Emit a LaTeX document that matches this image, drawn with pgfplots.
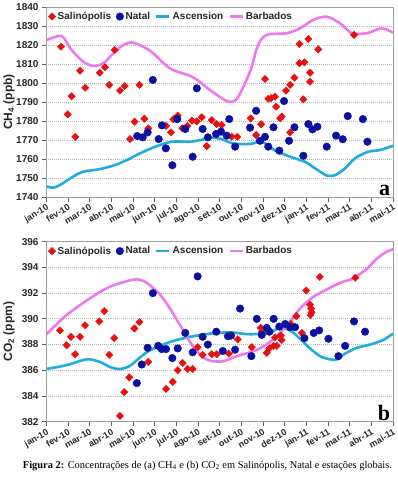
\documentclass[border=0pt]{standalone}
\usepackage{fontspec}
\setmainfont{Liberation Sans}
\newfontfamily\seriffont{Liberation Serif}
\usepackage{pgfplots}
\pgfplotsset{compat=1.18}
\definecolor{salred}{RGB}{232,16,16}
\definecolor{natblue}{RGB}{12,16,160}
\definecolor{ascblue}{RGB}{32,172,222}
\definecolor{barpink}{RGB}{238,120,238}

\pgfplotsset{
  mybase/.style={
    scale only axis, width=346.5pt,
    xmin=0, xmax=16, xtick={0,...,16},
    xticklabels={jan-10,fev-10,mar-10,abr-10,mai-10,jun-10,jul-10,ago-10,set-10,out-10,nov-10,dez-10,jan-11,fev-11,mar-11,abr-11,mai-11},
    xtick pos=bottom, ytick pos=left, tick align=outside,
    major tick length=4.5pt,
    axis line style={draw=gray!75, line width=0.8pt},
    every tick/.style={gray!75!black, line width=0.8pt},
    ymajorgrids, grid style={gray!55, dash pattern=on 1pt off 1pt, line width=0.8pt},
    /pgf/number format/assume math mode=true,
    /pgf/number format/1000 sep={},
    yticklabel style={font=\bfseries\fontsize{10}{12}\selectfont, text=black!85},
    xticklabel style={rotate=30, anchor=north east, font=\bfseries\fontsize{9}{10}\selectfont, inner sep=1.5pt, text=black!85},
    every axis y label/.style={at={(axis description cs:-0.108,0.5)}, rotate=90, anchor=center,
      font=\bfseries\fontsize{12}{14}\selectfont, text=black!85},
    legend columns=4,
    legend style={draw=none, fill=none, at={(0.002,0.99)}, anchor=north west,
      font=\bfseries\fontsize{10}{12}\selectfont, text=black!85,
      /tikz/every even column/.append style={column sep=3pt},
      inner sep=1pt},
    legend cell align=left,
  },
  linelegend/.style={legend image code/.code={\draw[##1] (0pt,0pt) -- (13pt,0pt);}},
  redm/.style={only marks, mark=square*, mark size=2.6pt, mark options={rotate=45, fill=salred, draw=salred}},
  bluem/.style={only marks, mark=*, mark size=3.8pt, mark options={fill=natblue, draw=natblue}},
  ascl/.style={ascblue, line width=2.6pt, smooth, no marks},
  barl/.style={barpink, line width=2.6pt, smooth, no marks},
}

\begin{document}
\begin{tikzpicture}
\useasboundingbox (0,0) rectangle (397pt,-480pt);

% ---------------- (a) CH4 ----------------
\begin{axis}[mybase, at={(46.5pt,-7pt)}, anchor=north west, height=190pt,
  ymin=1740, ymax=1840, ytick={1740,1750,...,1840},
  ylabel={CH\textsubscript{4} (ppb)}]
\addlegendimage{redm}
\addlegendimage{bluem}
\addlegendimage{ascblue, line width=2.6pt, linelegend}
\addlegendimage{barpink, line width=2.6pt, linelegend}
\legend{Salinópolis, Natal, Ascension, Barbados}

\addplot[ascl, forget plot] coordinates {
(0.00,1745.6) (0.30,1744.9) (0.62,1746.3) (1.22,1750.7) (1.69,1753.3) (2.47,1754.7)
(3.16,1756.8) (3.72,1759.5) (4.32,1763.0) (5.10,1766.8) (5.80,1769.1) (6.63,1769.1)
(7.09,1770.0) (7.64,1771.2) (8.11,1770.4) (8.61,1768.2) (9.40,1767.9) (9.95,1769.1)
(10.55,1764.5) (11.25,1761.2) (11.94,1758.5) (12.40,1755.1) (12.95,1751.3) (13.33,1751.5)
(13.79,1755.1) (14.25,1760.4) (14.85,1763.8) (15.40,1764.7) (16.00,1767.0)};
\addplot[barl, forget plot] coordinates {
(0.00,1822.6) (0.53,1824.7) (0.78,1824.0) (1.16,1817.4) (1.70,1811.2) (2.16,1809.0)
(2.62,1810.4) (3.09,1815.6) (3.55,1820.0) (4.01,1821.2) (4.78,1817.0) (5.70,1807.7)
(6.77,1803.0) (7.55,1796.3) (8.34,1790.5) (8.80,1791.8) (9.40,1806.0) (9.77,1820.0)
(10.17,1825.3) (11.09,1826.2) (11.71,1828.8) (12.32,1833.2) (12.94,1834.9) (13.56,1831.4)
(14.10,1826.2) (14.79,1826.2) (15.48,1828.8) (16.00,1826.5)};

\addplot[redm, forget plot] coordinates {
(0.67,1819.1) (0.98,1783.5) (1.16,1793.0) (1.33,1771.7) (1.55,1806.5) (1.79,1797.5)
(2.46,1805.4) (2.70,1808.3) (2.90,1799.0) (3.15,1817.4) (3.39,1796.0) (3.61,1798.4)
(3.86,1770.5) (4.07,1779.6) (4.29,1799.0) (4.52,1781.2) (4.70,1776.1) (5.52,1777.4)
(5.75,1774.0) (5.86,1780.9) (6.06,1782.8) (6.27,1776.2) (6.50,1777.4) (6.72,1780.2)
(6.94,1779.8) (7.17,1782.0) (7.40,1766.8) (7.63,1780.5) (7.86,1778.4) (8.09,1777.9)
(8.55,1771.7) (8.81,1771.7) (9.43,1781.4) (9.68,1772.6) (9.91,1778.3) (10.09,1802.1)
(10.24,1791.7) (10.37,1792.0) (10.55,1792.8) (10.60,1787.5) (10.79,1781.4) (10.86,1782.3)
(11.25,1774.0) (11.06,1796.0) (11.25,1799.0) (11.45,1802.8) (11.68,1810.4) (11.91,1810.9)
(11.68,1820.5) (11.86,1791.4) (12.09,1823.2) (12.17,1805.4) (12.17,1800.7) (12.55,1817.7)
(14.20,1825.3)};
\addplot[bluem, forget plot] coordinates {
(4.91,1801.6) (4.19,1772.1) (4.44,1771.4) (4.67,1774.0) (5.18,1770.5) (5.33,1777.7)
(5.51,1765.6) (5.81,1756.7) (6.04,1781.0) (6.41,1775.8) (6.75,1761.2) (6.94,1797.2)
(7.21,1775.8) (7.45,1771.4) (7.83,1773.2) (8.06,1774.4) (8.32,1772.3) (8.44,1781.0)
(8.71,1766.5) (9.40,1776.5) (9.68,1785.4) (9.86,1769.6) (10.09,1771.7) (10.24,1766.5)
(10.48,1776.7) (10.75,1764.4) (10.97,1790.5) (11.20,1769.6) (11.45,1776.7) (11.86,1761.7)
(12.09,1778.4) (12.28,1775.6) (12.51,1777.0) (12.94,1766.5) (13.37,1772.3) (13.68,1770.4)
(13.91,1782.6) (14.61,1781.0) (14.82,1769.1)};
\node[anchor=south east, inner sep=1pt, font=\seriffont\bfseries\fontsize{22}{22}\selectfont] at (rel axis cs:0.995,0.0) {a};
\end{axis}

% ---------------- (b) CO2 ----------------
\begin{axis}[mybase, at={(46.5pt,-241.7pt)}, anchor=north west, height=180pt,
  ymin=382, ymax=396, ytick={382,384,...,396},
  ylabel={CO\textsubscript{2} (ppm)}]
\addlegendimage{redm}
\addlegendimage{bluem}
\addlegendimage{ascblue, line width=2.6pt, linelegend}
\addlegendimage{barpink, line width=2.6pt, linelegend}
\legend{Salinópolis, Natal, Ascension, Barbados}

\addplot[ascl, forget plot] coordinates {
(0.00,386.1) (0.93,386.4) (1.86,386.85) (2.47,386.65) (2.93,386.25) (3.39,386.1)
(3.86,386.35) (4.32,387.0) (4.78,387.55) (5.70,388.2) (6.63,388.6) (7.55,388.85)
(8.48,388.95) (9.40,388.8) (10.32,388.95) (10.78,389.3) (11.25,389.1) (11.71,388.45)
(12.17,387.7) (12.63,387.1) (13.09,386.85) (13.42,386.85) (13.79,387.3) (14.34,387.75)
(14.94,388.0) (15.54,388.35) (16.00,388.85)};
\addplot[barl, forget plot] coordinates {
(0.00,388.8) (0.93,390.3) (2.01,391.6) (2.93,392.5) (4.01,393.05) (4.47,392.95)
(4.78,392.6) (5.24,391.9) (5.70,390.8) (6.17,389.5) (6.63,388.2) (7.09,387.2)
(7.55,386.75) (8.15,386.7) (8.79,387.1) (9.40,387.4) (9.86,387.7) (10.46,388.4)
(11.11,389.5) (11.71,390.8) (12.31,391.7) (12.96,392.3) (13.56,392.8) (14.16,393.15)
(14.80,393.9) (15.26,394.7) (15.73,395.25) (16.00,395.4)};

\addplot[redm, forget plot] coordinates {
(0.62,389.1) (0.93,387.95) (1.13,388.6) (1.32,387.25) (1.55,388.6) (1.78,389.5)
(2.44,389.8) (2.67,390.6) (2.90,387.2) (3.13,388.5) (3.39,382.45) (3.59,384.3)
(3.82,385.45) (4.06,389.25) (4.29,389.75) (4.70,386.65) (5.52,384.55) (5.83,385.1)
(6.06,386.0) (6.29,386.57) (6.52,386.1) (6.75,386.1) (6.98,387.8) (7.21,387.2)
(7.63,387.25) (7.86,387.25) (8.42,387.3) (8.83,388.4) (9.48,387.8) (9.89,389.3)
(9.95,389.0) (10.17,387.35) (10.29,387.7) (10.48,387.9) (10.63,387.9) (10.55,388.55)
(10.82,388.7) (10.86,388.36) (11.28,389.6) (11.54,390.2) (11.79,388.9) (11.99,392.2)
(12.17,391.1) (12.22,390.8) (12.24,390.5) (12.19,390.3) (12.62,393.26) (14.26,393.2)};
\addplot[bluem, forget plot] coordinates {
(4.17,385.0) (4.40,386.45) (4.67,387.75) (4.91,392.0) (5.16,387.9) (5.32,387.65)
(5.52,387.65) (5.81,386.95) (6.06,387.7) (6.41,388.9) (6.75,387.4) (6.98,393.3)
(7.21,388.6) (7.45,388.0) (7.84,389.0) (8.14,387.5) (8.38,388.65) (8.52,388.7)
(8.71,387.6) (8.94,390.8) (9.46,387.1) (9.71,390.0) (9.94,388.75) (10.17,389.3)
(10.29,389.0) (10.49,390.0) (10.75,389.4) (11.02,389.6) (11.25,389.35) (11.48,389.35)
(11.91,388.5) (12.34,388.9) (12.59,389.1) (13.02,388.45) (13.48,387.1) (13.79,387.9)
(14.20,389.8) (14.71,389.0)};
\node[anchor=south east, inner sep=1pt, font=\seriffont\bfseries\fontsize{22}{22}\selectfont] at (rel axis cs:0.995,0.0) {b};
\end{axis}

\node[font=\seriffont\fontsize{10.4}{12}\selectfont] at (207.5pt,-466pt)
 {\textbf{Figura 2:} Concentrações de (a) CH\textsubscript{4} e (b) CO\textsubscript{2} em Salinópolis, Natal e estações globais.};
\end{tikzpicture}
\end{document}
